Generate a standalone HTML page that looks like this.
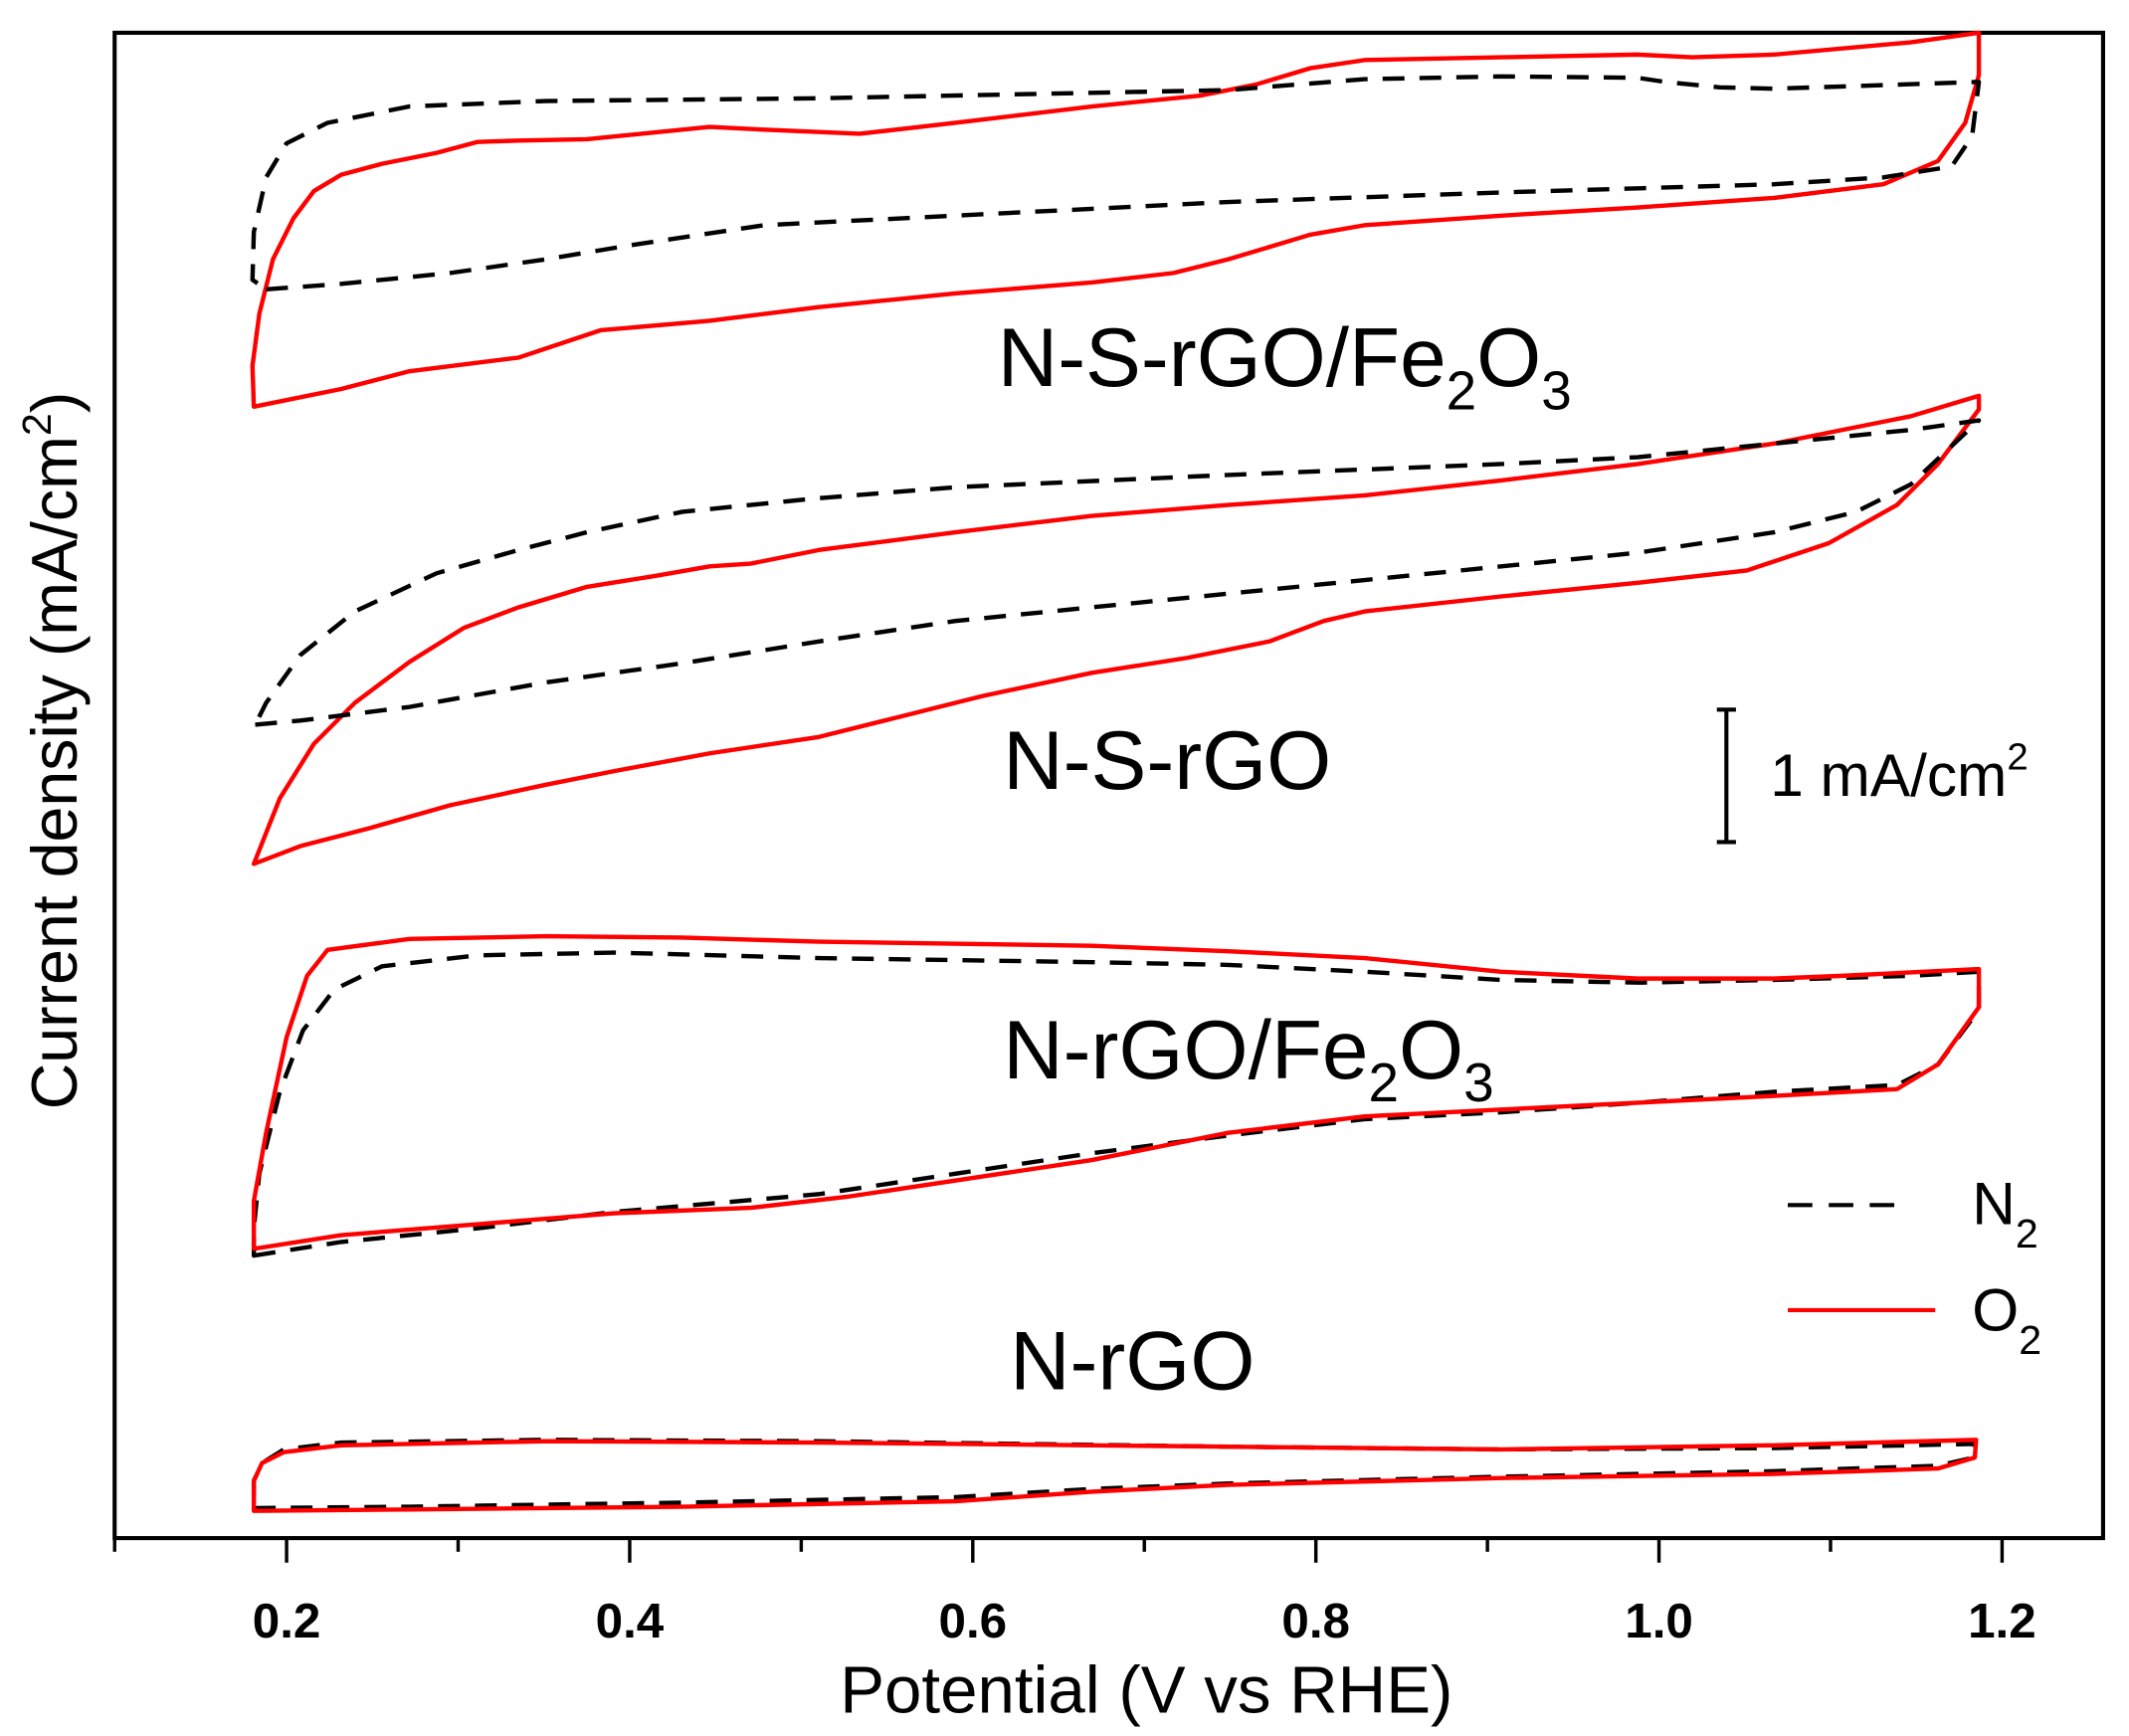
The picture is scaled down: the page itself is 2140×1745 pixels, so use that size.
<!DOCTYPE html>
<html><head><meta charset="utf-8"><style>
html,body{margin:0;padding:0;background:#fff;}
svg{display:block;}
text{font-family:"Liberation Sans",Arial,sans-serif;}
</style></head><body>
<svg width="2140" height="1745" viewBox="0 0 1560 1272" preserveAspectRatio="none" xmlns="http://www.w3.org/2000/svg">
<rect x="0" y="0" width="1560" height="1272" fill="#fff"/>
<rect x="84" y="24" width="1457" height="1103" fill="none" stroke="#000" stroke-width="3"/>
<g stroke="#000" stroke-width="2.5">
<line x1="84" y1="1127" x2="84" y2="1137"/>
<line x1="210" y1="1127" x2="210" y2="1145"/>
<line x1="335.7" y1="1127" x2="335.7" y2="1137"/>
<line x1="461.4" y1="1127" x2="461.4" y2="1145"/>
<line x1="587.1" y1="1127" x2="587.1" y2="1137"/>
<line x1="712.8" y1="1127" x2="712.8" y2="1145"/>
<line x1="838.5" y1="1127" x2="838.5" y2="1137"/>
<line x1="964.2" y1="1127" x2="964.2" y2="1145"/>
<line x1="1089.9" y1="1127" x2="1089.9" y2="1137"/>
<line x1="1215.6" y1="1127" x2="1215.6" y2="1145"/>
<line x1="1341.3" y1="1127" x2="1341.3" y2="1137"/>
<line x1="1467" y1="1127" x2="1467" y2="1145"/>
</g>
<g font-size="36" font-weight="bold" text-anchor="middle" fill="#000">
<text x="210" y="1200">0.2</text>
<text x="461.4" y="1200">0.4</text>
<text x="712.8" y="1200">0.6</text>
<text x="964.2" y="1200">0.8</text>
<text x="1215.6" y="1200">1.0</text>
<text x="1467" y="1200">1.2</text>
</g>
<text x="840" y="1255" font-size="49" text-anchor="middle">Potential (V vs RHE)</text>
<text transform="translate(56,550) rotate(-90)" font-size="47" text-anchor="middle">Current density (mA/cm<tspan font-size="30" dy="-19">2</tspan><tspan dy="19">)</tspan></text>

<g fill="none" stroke-width="3.2" stroke-linejoin="round">
<path stroke="#f00" d="M186,298 L250,285 L300,272 L380,262 L440,242 L520,235 L600,225 L700,215 L800,207 L860,200 L900,190 L960,172 L1000,165 L1100,158 L1200,152 L1300,145 L1380,135 L1420,118 L1440,90 L1450,55 L1450,24 L1400,31 L1300,40 L1240,42 L1200,40 L1100,42 L1000,44 L960,50 L920,62 L880,70 L800,78 L700,90 L630,98 L560,95 L520,93 L480,97 L430,102 L380,103 L350,104 L320,112 L280,120 L250,128 L230,140 L215,160 L200,190 L190,230 L185,268 Z"/>
<path stroke="#000" stroke-dasharray="16,11" d="M195,212 L250,208 L330,200 L400,190 L460,180 L560,165 L700,158 L900,148 L1100,141 L1300,135 L1380,130 L1430,122 L1445,100 L1450,60 L1300,65 L1260,64 L1220,60 L1200,57 L1100,56 L1000,58 L900,66 L800,68 L600,72 L400,74 L300,78 L240,90 L210,105 L195,130 L186,170 L185,205 Z"/>
<path stroke="#f00" d="M186,633 L220,620 L270,607 L330,590 L400,575 L450,565 L520,552 L600,540 L660,525 L720,510 L800,493 L870,482 L930,470 L970,455 L1000,448 L1100,437 L1200,427 L1280,418 L1340,398 L1390,370 L1420,340 L1450,300 L1450,290 L1400,305 L1300,325 L1200,340 L1100,352 L1000,363 L900,370 L800,378 L700,390 L600,403 L550,413 L520,415 L480,422 L430,430 L380,445 L340,460 L300,485 L260,515 L230,545 L205,585 Z"/>
<path stroke="#000" stroke-dasharray="16,11" d="M187,531 L220,528 L300,518 L400,500 L500,486 L600,470 L700,455 L800,445 L900,435 L1000,425 L1100,415 L1200,405 L1300,390 L1360,375 L1400,355 L1450,308 L1400,315 L1300,325 L1200,335 L1100,340 L900,348 L700,357 L600,365 L500,375 L430,390 L380,403 L320,420 L260,448 L220,480 L195,515 Z"/>
<path stroke="#000" stroke-dasharray="16,11" d="M186,920 L250,910 L350,900 L450,888 L600,875 L700,860 L800,845 L900,832 L1000,820 L1100,815 L1200,808 L1300,800 L1390,795 L1420,780 L1450,740 L1450,712 L1400,715 L1300,718 L1200,720 L1100,718 L1000,712 L900,707 L800,705 L600,702 L450,698 L350,700 L280,708 L245,725 L222,755 L205,800 L190,860 L186,900 Z"/>
<path stroke="#f00" d="M186,915 L250,905 L350,897 L450,889 L550,885 L620,877 L700,865 L800,850 L900,830 L1000,818 L1100,813 L1200,808 L1300,803 L1390,798 L1420,780 L1450,738 L1450,710 L1350,715 L1300,717 L1200,717 L1100,712 L1000,702 L900,697 L800,693 L600,690 L500,687 L400,686 L300,688 L240,696 L225,715 L210,760 L195,830 L186,880 Z"/>
<path stroke="#000" stroke-dasharray="16,11" d="M186,1105 L300,1104 L500,1101 L700,1097 L800,1091 L900,1087 L1100,1082 L1300,1078 L1420,1074 L1446,1068 L1447,1058 L1300,1061 L1100,1062 L900,1060 L600,1056 L400,1055 L250,1057 L208,1062 L192,1072 L186,1085 Z"/>
<path stroke="#f00" d="M186,1107 L300,1106 L500,1104 L700,1100 L800,1093 L900,1088 L1100,1083 L1300,1080 L1420,1076 L1447,1068 L1448,1055 L1300,1059 L1100,1062 L900,1060 L600,1057 L400,1056 L250,1059 L208,1064 L192,1072 L186,1085 Z"/>
</g>

<g font-size="61" fill="#000">
<text x="731" y="283">N-S-rGO/Fe<tspan font-size="40" dy="17">2</tspan><tspan dy="-17">O</tspan><tspan font-size="40" dy="17">3</tspan></text>
<text x="735" y="578">N-S-rGO</text>
<text x="735" y="790">N-rGO/Fe<tspan font-size="40" dy="17">2</tspan><tspan dy="-17">O</tspan><tspan font-size="40" dy="17">3</tspan></text>
<text x="740" y="1018">N-rGO</text>
</g>
<g stroke="#000" stroke-width="3">
<line x1="1265" y1="520" x2="1265" y2="617"/>
<line x1="1258" y1="520" x2="1272" y2="520"/>
<line x1="1258" y1="617" x2="1272" y2="617"/>
</g>
<text x="1297" y="583" font-size="44">1 mA/cm<tspan font-size="28" dy="-19">2</tspan></text>
<line x1="1310" y1="883" x2="1400" y2="883" stroke="#000" stroke-width="3" stroke-dasharray="18,12"/>
<line x1="1310" y1="960" x2="1418" y2="960" stroke="#f00" stroke-width="3"/>
<text x="1445" y="897" font-size="44">N<tspan font-size="30" dy="17">2</tspan></text>
<text x="1445" y="975" font-size="44">O<tspan font-size="30" dy="17">2</tspan></text>
</svg>
</body></html>
